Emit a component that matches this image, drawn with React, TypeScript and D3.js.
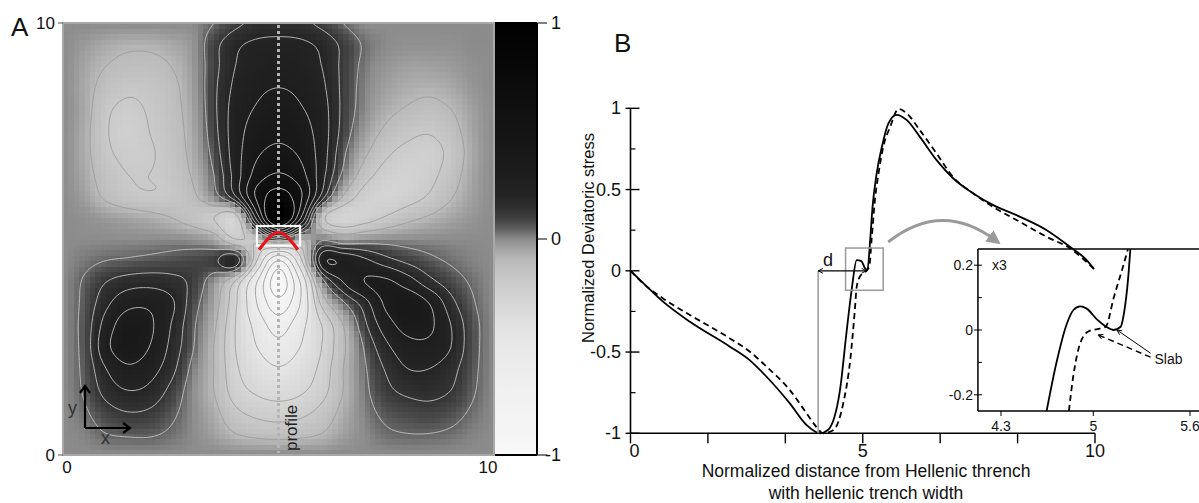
import React, { useMemo } from 'react';
import * as d3 from 'd3';

// ---------- Panel A data: normalized deviatoric stress field (rows from y=10 down to y=0, x = 0..10 step 0.5)
const gridStep = 0.5;
const fieldRows: number[][] = [
  [0, 0, 0, 0, 0, 0, 0, 0.04, 0.1, 0.14, 0.15, 0.14, 0.1, 0.04, 0, 0, 0, 0, 0, 0, 0],
  [0, -0.03, -0.06, -0.08, -0.08, -0.06, -0.02, 0.09, 0.18, 0.22, 0.23, 0.22, 0.18, 0.1, 0.03, 0, -0.01, -0.01, -0.01, 0, 0],
  [0, -0.05, -0.1, -0.13, -0.13, -0.1, -0.03, 0.09, 0.2, 0.25, 0.27, 0.25, 0.2, 0.1, 0.02, -0.02, -0.04, -0.04, -0.03, -0.01, 0],
  [0, -0.06, -0.14, -0.18, -0.17, -0.13, -0.04, 0.1, 0.22, 0.28, 0.3, 0.28, 0.22, 0.1, 0.01, -0.04, -0.07, -0.08, -0.06, -0.02, 0],
  [0, -0.06, -0.18, -0.22, -0.19, -0.14, -0.05, 0.1, 0.24, 0.31, 0.34, 0.31, 0.24, 0.1, 0.0, -0.07, -0.11, -0.13, -0.1, -0.04, 0],
  [0, -0.07, -0.19, -0.24, -0.2, -0.15, -0.06, 0.09, 0.25, 0.35, 0.39, 0.35, 0.25, 0.09, -0.03, -0.12, -0.17, -0.19, -0.14, -0.05, 0],
  [0, -0.07, -0.18, -0.22, -0.21, -0.16, -0.07, 0.07, 0.25, 0.4, 0.45, 0.4, 0.25, 0.06, -0.08, -0.18, -0.23, -0.24, -0.17, -0.06, 0],
  [0, -0.06, -0.15, -0.2, -0.2, -0.17, -0.09, 0.04, 0.24, 0.47, 0.56, 0.47, 0.24, 0.02, -0.15, -0.24, -0.27, -0.23, -0.15, -0.05, 0],
  [0, -0.04, -0.12, -0.17, -0.19, -0.18, -0.12, 0.0, 0.2, 0.58, 0.78, 0.58, 0.18, -0.1, -0.24, -0.28, -0.25, -0.19, -0.11, -0.04, 0],
  [0, -0.01, -0.03, -0.05, -0.07, -0.1, -0.15, -0.2, -0.25, 0.35, 1.0, 0.45, -0.15, -0.28, -0.25, -0.19, -0.13, -0.09, -0.05, -0.02, 0],
  [0, 0, 0, 0, 0, 0, -0.01, -0.05, -0.2, -0.15, 0.05, -0.1, 0.02, -0.03, -0.01, 0, 0, 0, 0, 0, 0],
  [0, 0.02, 0.04, 0.05, 0.06, 0.07, 0.08, 0.1, 0.18, -0.3, -0.75, -0.35, 0.25, 0.28, 0.22, 0.15, 0.1, 0.06, 0.03, 0.01, 0],
  [0, 0.05, 0.12, 0.16, 0.17, 0.15, 0.1, -0.02, -0.22, -0.6, -0.99, -0.6, -0.02, 0.2, 0.3, 0.32, 0.25, 0.15, 0.08, 0.03, 0],
  [0, 0.06, 0.18, 0.27, 0.28, 0.22, 0.08, -0.05, -0.28, -0.6, -0.84, -0.6, -0.18, 0.02, 0.16, 0.32, 0.38, 0.3, 0.15, 0.05, 0],
  [0, 0.07, 0.24, 0.36, 0.32, 0.2, 0.06, -0.08, -0.3, -0.5, -0.67, -0.5, -0.3, -0.1, 0.1, 0.25, 0.34, 0.32, 0.2, 0.07, 0],
  [0, 0.07, 0.27, 0.37, 0.3, 0.18, 0.05, -0.1, -0.3, -0.45, -0.55, -0.45, -0.3, -0.12, 0.05, 0.18, 0.26, 0.27, 0.2, 0.07, 0],
  [0, 0.06, 0.2, 0.28, 0.24, 0.15, 0.02, -0.1, -0.28, -0.38, -0.44, -0.38, -0.27, -0.1, 0.03, 0.13, 0.2, 0.2, 0.15, 0.06, 0],
  [0, 0.05, 0.15, 0.2, 0.18, 0.1, 0, -0.1, -0.25, -0.32, -0.35, -0.32, -0.24, -0.1, 0.02, 0.1, 0.14, 0.15, 0.12, 0.05, 0],
  [0, 0.03, 0.09, 0.12, 0.11, 0.06, 0, -0.07, -0.18, -0.23, -0.25, -0.23, -0.17, -0.07, 0.01, 0.06, 0.08, 0.09, 0.07, 0.03, 0],
  [0, 0.01, 0.04, 0.05, 0.05, 0.03, 0, -0.04, -0.1, -0.13, -0.14, -0.13, -0.1, -0.04, 0, 0.03, 0.04, 0.04, 0.03, 0.01, 0],
  [0, 0, 0, 0, 0, 0, 0, 0, 0, 0, 0, 0, 0, 0, 0, 0, 0, 0, 0, 0, 0],
];

// colormap: value -> gray level
const colorValues = [-1, -0.7, -0.45, -0.3, -0.2, -0.1, -0.05, 0, 0.03, 0.07, 0.12, 0.2, 0.35, 0.6, 1];
const colorGrays = [248, 240, 230, 214, 202, 186, 165, 140, 110, 75, 52, 36, 26, 16, 0];
const contourLevels = [-0.9, -0.75, -0.6, -0.45, -0.3, -0.2, -0.1, 0.04, 0.12, 0.2, 0.3, 0.42, 0.55, 0.7];
const mapTickValues = [0, 10];
const colorbarTicks = [-1, 0, 1];
const profileX = 5;
const slabX = [4.55, 5.0, 5.45];
const slabY = [4.75, 5.15, 4.75];
const slabBoxX = [4.5, 5.5];
const slabBoxY = [4.85, 5.3];

// ---------- Panel B data
const solidDist = [0, 0.28, 0.7, 1.28, 2.14, 2.57, 2.93, 3.43, 3.79, 4.08, 4.25, 4.51, 4.65, 4.76, 4.87, 4.97, 5.05, 5.1, 5.16, 5.21, 5.3, 5.41, 5.55, 5.73, 5.95, 6.23, 6.59, 6.95, 7.38, 7.81, 8.39, 8.96, 9.46, 9.82, 9.98];
const solidStress = [0, -0.077, -0.19, -0.314, -0.467, -0.551, -0.652, -0.816, -0.949, -1.0, -0.98, -0.734, -0.38, -0.12, 0.066, 0.06, 0.015, 0.004, 0.19, 0.39, 0.6, 0.76, 0.906, 0.96, 0.927, 0.824, 0.681, 0.568, 0.476, 0.404, 0.332, 0.25, 0.148, 0.066, 0.01];
const dashedDist = [0, 0.28, 0.7, 1.28, 2.14, 2.57, 2.93, 3.43, 3.79, 4.0, 4.15, 4.37, 4.58, 4.73, 4.83, 4.87, 4.95, 5.01, 5.14, 5.19, 5.26, 5.34, 5.44, 5.59, 5.77, 5.95, 6.23, 6.59, 6.94, 7.38, 7.8, 8.39, 8.96, 9.46, 9.96];
const dashedStress = [0, -0.08, -0.17, -0.272, -0.416, -0.498, -0.59, -0.734, -0.877, -0.96, -1.0, -0.98, -0.816, -0.55, -0.24, -0.098, -0.03, -0.016, 0.025, 0.19, 0.43, 0.6, 0.76, 0.886, 0.995, 0.968, 0.865, 0.722, 0.578, 0.476, 0.394, 0.3, 0.209, 0.138, 0.017];

const insetSolidDist = [4.646, 4.72, 4.8, 4.848, 4.9, 4.95, 5.026, 5.08, 5.127, 5.17, 5.19, 5.215, 5.23];
const insetSolidStress = [-0.25, -0.102, 0.02, 0.061, 0.073, 0.066, 0.031, 0.01, 0.0, 0.01, 0.051, 0.153, 0.25];
const insetDashedDist = [4.815, 4.848, 4.886, 4.924, 4.975, 5.026, 5.077, 5.127, 5.177, 5.215];
const insetDashedStress = [-0.25, -0.143, -0.061, -0.02, -0.002, 0.003, 0.01, 0.1, 0.183, 0.25];

const bXTickLabels = [0, 5, 10];
const bXMinorTicks = [0, 10 / 6, 20 / 6, 5, 40 / 6, 50 / 6, 10];
const bYTickLabels = [-1, -0.5, 0, 0.5, 1];
const bYMinorTicks = [-0.75, -0.25, 0.25, 0.75];
const insetXTicks = [4.3, 5, 5.6];
const insetYTicks = [-0.2, 0, 0.2];
const insetYMinor = [-0.1, 0.1];
const zoomBoxX = [4.63, 5.44];
const zoomBoxY = [-0.12, 0.14];
const dArrowX = [4.04, 5.08];
const slabLabelPos = [5.38, -0.09];
const slabSolidTarget = [5.147, 0.0];
const slabDashedTarget = [5.03, -0.015];

const FONT = '"Liberation Sans", Arial, Helvetica, sans-serif';

const G = fieldRows.slice().reverse();
const NX = G[0].length;
const NY = G.length;
function at(i: number, j: number) {
  const ii = Math.max(0, Math.min(NX - 1, i));
  const jj = Math.max(0, Math.min(NY - 1, j));
  return G[jj][ii];
}
function cr(p0: number, p1: number, p2: number, p3: number, t: number) {
  return 0.5 * (2 * p1 + (-p0 + p2) * t + (2 * p0 - 5 * p1 + 4 * p2 - p3) * t * t + (-p0 + 3 * p1 - 3 * p2 + p3) * t * t * t);
}
function sample(x: number, y: number) {
  const fx = x / gridStep;
  const fy = y / gridStep;
  let i = Math.floor(fx);
  let j = Math.floor(fy);
  i = Math.max(0, Math.min(NX - 2, i));
  j = Math.max(0, Math.min(NY - 2, j));
  const t = fx - i;
  const u = fy - j;
  const r: number[] = [];
  for (let dj = -1; dj <= 2; dj++) {
    r.push(cr(at(i - 1, j + dj), at(i, j + dj), at(i + 1, j + dj), at(i + 2, j + dj), t));
  }
  return cr(r[0], r[1], r[2], r[3], u);
}

export default function App() {
  const xA = d3.scaleLinear().domain([0, 10]).range([63, 494]);
  const yA = d3.scaleLinear().domain([0, 10]).range([455, 23]);
  const gray = d3.scaleLinear().domain(colorValues).range(colorGrays).clamp(true);
  const col = (v: number) => {
    const g = Math.round(gray(v));
    return `rgb(${g},${g},${g})`;
  };
  const cbScale = d3.scaleLinear().domain([-1, 1]).range([455, 23]);

  const cells = useMemo(() => {
    const n = 80;
    const c = 10 / n;
    const out: { x: number; y: number; w: number; h: number; f: string }[] = [];
    for (let ci = 0; ci < n; ci++) {
      for (let cj = 0; cj < n; cj++) {
        const x0 = ci * c, x1 = (ci + 1) * c;
        const y0 = cj * c, y1 = (cj + 1) * c;
        const v = sample((x0 + x1) / 2, (y0 + y1) / 2);
        out.push({ x: xA(x0), y: yA(y1), w: xA(x1) - xA(x0) + 0.6, h: yA(y0) - yA(y1) + 0.6, f: col(v) });
      }
    }
    return out;
  }, []);

  const contourPaths = useMemo(() => {
    const N = 161;
    const step = 10 / (N - 1);
    const vals = new Array(N * N);
    for (let r = 0; r < N; r++) {
      for (let c = 0; c < N; c++) {
        vals[r * N + c] = sample(c * step, 10 - r * step);
      }
    }
    const cs = d3.contours().size([N, N]).thresholds(contourLevels)(vals);
    const proj = d3.geoTransform({
      point: function (this: any, x: number, y: number) {
        this.stream.point(xA((x - 0.5) * step), yA(10 - (y - 0.5) * step));
      },
    });
    const path = d3.geoPath(proj);
    return cs.map((g) => ({ d: path(g as any) || '', level: g.value }));
  }, []);

  const gradStops = d3.range(0, 41).map((k) => {
    const v = 1 - k / 20;
    return { off: `${(k / 40) * 100}%`, c: col(v) };
  });

  // Panel B
  const xB = d3.scaleLinear().domain([0, 10]).range([630.5, 1095]);
  const yB = d3.scaleLinear().domain([-1, 1]).range([433.3, 108.3]);
  const solidPath = d3.line<number>().x((_, k) => xB(solidDist[k])).y((d) => yB(d)).curve(d3.curveMonotoneX)(solidStress) || '';
  const dashedPath = d3.line<number>().x((_, k) => xB(dashedDist[k])).y((d) => yB(d)).curve(d3.curveMonotoneX)(dashedStress) || '';

  const xI = d3.scaleLinear().domain([4.3, 5, 5.6]).range([1001, 1093.3, 1190]);
  const yI = d3.scaleLinear().domain([-0.25, 0.25]).range([411, 249]);
  const insetLeft = xI(4.125);
  const insetRight = 1205;
  const insetSolid = d3.line<number>().x((_, k) => xI(insetSolidDist[k])).y((d) => yI(d)).curve(d3.curveMonotoneX)(insetSolidStress) || '';
  const insetDashed = d3.line<number>().x((_, k) => xI(insetDashedDist[k])).y((d) => yI(d)).curve(d3.curveMonotoneX)(insetDashedStress) || '';

  const zbx0 = xB(zoomBoxX[0]), zbx1 = xB(zoomBoxX[1]);
  const zby0 = yB(zoomBoxY[1]), zby1 = yB(zoomBoxY[0]);
  const arcStart = [zbx1 + 5, zby0 - 6];
  const arcEnd = [xI(4.3) - 6, yI(0.25) - 9];
  const arcCtrl = [(arcStart[0] + arcEnd[0]) / 2, zby0 - 48];

  const slabPts = slabX.map((x, k) => [xA(x), yA(slabY[k])] as [number, number]);
  const cbL = 495, cbR = 537;

  return (
    <svg width={1199} height={503} style={{ position: 'absolute', left: 0, top: 0, background: '#fff' }} fontFamily={FONT}>
      <defs>
        <clipPath id="mapClip">
          <rect x={xA(0)} y={yA(10)} width={xA(10) - xA(0)} height={yA(0) - yA(10)} />
        </clipPath>
        <clipPath id="insetClip">
          <rect x={insetLeft} y={yI(0.25)} width={insetRight - insetLeft} height={yI(-0.25) - yI(0.25)} />
        </clipPath>
        <linearGradient id="cbGrad" x1="0" y1="0" x2="0" y2="1">
          {gradStops.map((s, k) => (
            <stop key={k} offset={s.off} stopColor={s.c} />
          ))}
        </linearGradient>
        <marker id="ahBlack" viewBox="0 0 10 10" refX="9" refY="5" markerWidth="6" markerHeight="6" orient="auto-start-reverse" markerUnits="userSpaceOnUse">
          <path d="M1,1 L9,5 L1,9" fill="none" stroke="#000" strokeWidth={1.5} />
        </marker>
        <marker id="ahGray" viewBox="0 0 10 10" refX="5" refY="5" markerWidth="14" markerHeight="14" orient="auto" markerUnits="userSpaceOnUse">
          <path d="M0,0 L10,5 L0,10 z" fill="#9a9a9a" />
        </marker>
      </defs>

      {/* ---------------- Panel A ---------------- */}
      <g clipPath="url(#mapClip)">
        {cells.map((c, k) => (
          <rect key={k} x={c.x} y={c.y} width={c.w} height={c.h} fill={c.f} shapeRendering="crispEdges" />
        ))}
        {contourPaths.map((p, k) => (
          <path key={k} d={p.d} fill="none" stroke={p.level < 0 ? '#9c9c9c' : '#c2c2c2'} strokeWidth={0.9} />
        ))}
        <line x1={xA(profileX)} x2={xA(profileX)} y1={yA(10) + 2} y2={yA(0) - 2} stroke="#b4b4b4" strokeWidth={3} strokeDasharray="3,3" />
        <rect x={xA(slabBoxX[0])} y={yA(slabBoxY[1])} width={xA(slabBoxX[1]) - xA(slabBoxX[0])} height={yA(slabBoxY[0]) - yA(slabBoxY[1])} fill="none" stroke="#fff" strokeWidth={2.2} />
        <path d={d3.line().curve(d3.curveMonotoneX)(slabPts) || ''} fill="none" stroke="#e8141b" strokeWidth={3.2} />
      </g>

      {/* colorbar */}
      <rect x={cbL} y={cbScale(1)} width={cbR - cbL} height={cbScale(-1) - cbScale(1)} fill="url(#cbGrad)" />
      <g stroke="#000" strokeWidth={2} fill="none">
        <line x1={cbL} x2={cbR} y1={cbScale(1)} y2={cbScale(1)} />
        <line x1={cbR} x2={cbR} y1={cbScale(1)} y2={cbScale(-1)} />
        <line x1={cbL} x2={cbR} y1={cbScale(-1)} y2={cbScale(-1)} />
      </g>
      <rect x={xA(0)} y={yA(10)} width={xA(10) - xA(0)} height={yA(0) - yA(10)} fill="none" stroke="#a8a8a8" strokeWidth={2} />
      {colorbarTicks.map((t) => (
        <g key={t}>
          <line x1={cbR} x2={cbR + 10} y1={cbScale(t)} y2={cbScale(t)} stroke="#000" strokeWidth={1} />
          <text x={561} y={cbScale(t) + 6} textAnchor="end" fontSize={18} fill="#111">{t}</text>
        </g>
      ))}

      {/* map axis labels */}
      <text x={11} y={36} fontSize={26} fill="#111">A</text>
      {mapTickValues.map((t) => (
        <g key={'my' + t}>
          <line x1={xA(0) - 5} x2={xA(0)} y1={yA(t)} y2={yA(t)} stroke="#555" strokeWidth={1} />
          <text x={xA(0) - 8} y={yA(t) + 6} textAnchor="end" fontSize={17} fill="#111">{t}</text>
        </g>
      ))}
      {mapTickValues.map((t) => (
        <text key={'mx' + t} x={t === 0 ? xA(t) + 4 : xA(t) - 6} y={473} textAnchor="middle" fontSize={17} fill="#111">{t}</text>
      ))}
      <text transform={`translate(${xA(profileX) + 18},${yA(0) - 4}) rotate(-90)`} fontSize={17} fill="#222">profile</text>

      {/* xy icon */}
      <g stroke="#000" strokeWidth={2.2} fill="none">
        <line x1={85} y1={428} x2={85} y2={388} />
        <path d="M80,393 L85,386 L90,393" />
        <line x1={85} y1={428} x2={128} y2={428} />
        <path d="M123,423 L130,428 L123,433" />
      </g>
      <text x={68} y={414} fontSize={18} fill="#333">y</text>
      <text x={101} y={444} fontSize={18} fill="#333">x</text>

      {/* ---------------- Panel B ---------------- */}
      <text x={614} y={52} fontSize={26} fill="#111">B</text>

      {/* inset */}
      <g clipPath="url(#insetClip)">
        <path d={insetSolid} fill="none" stroke="#000" strokeWidth={1.8} />
        <path d={insetDashed} fill="none" stroke="#000" strokeWidth={1.8} strokeDasharray="6,4" />
      </g>
      <g stroke="#000" strokeWidth={1.5} fill="none">
        <line x1={insetLeft} x2={insetRight} y1={yI(0.25)} y2={yI(0.25)} />
        <line x1={insetLeft} x2={insetRight} y1={yI(-0.25)} y2={yI(-0.25)} />
        <line x1={insetLeft} x2={insetLeft} y1={yI(0.25)} y2={yI(-0.25)} />
      </g>
      {insetYTicks.map((t) => (
        <g key={'iy' + t}>
          <line x1={insetLeft - 4} x2={insetLeft + 4} y1={yI(t)} y2={yI(t)} stroke="#000" strokeWidth={1} />
          <text x={insetLeft - 5} y={yI(t) + 5} textAnchor="end" fontSize={14} fill="#111">{t}</text>
        </g>
      ))}
      {insetYMinor.map((t) => (
        <line key={'iym' + t} x1={insetLeft} x2={insetLeft + 4} y1={yI(t)} y2={yI(t)} stroke="#000" strokeWidth={1} />
      ))}
      {insetXTicks.map((t) => (
        <g key={'ix' + t}>
          <line x1={xI(t)} x2={xI(t)} y1={yI(-0.25)} y2={yI(-0.25) + 5} stroke="#000" strokeWidth={1} />
          <text x={xI(t)} y={yI(-0.25) + 20} textAnchor="middle" fontSize={14} fill="#111">{t}</text>
        </g>
      ))}
      <text x={insetLeft + 14} y={yI(0.2) + 5} fontSize={14} fill="#111">x3</text>
      <text x={xI(slabLabelPos[0])} y={yI(slabLabelPos[1]) + 5} fontSize={14} fill="#111">Slab</text>
      <line x1={xI(slabLabelPos[0]) - 4} y1={yI(slabLabelPos[1]) - 6} x2={xI(slabSolidTarget[0])} y2={yI(slabSolidTarget[1])} stroke="#000" strokeWidth={1} markerEnd="url(#ahBlack)" />
      <line x1={xI(slabLabelPos[0]) - 4} y1={yI(slabLabelPos[1]) - 2} x2={xI(slabDashedTarget[0])} y2={yI(slabDashedTarget[1])} stroke="#000" strokeWidth={1.4} strokeDasharray="6,4" markerEnd="url(#ahBlack)" />

      {/* main curves */}
      <path d={solidPath} fill="none" stroke="#000" strokeWidth={1.8} />
      <path d={dashedPath} fill="none" stroke="#000" strokeWidth={1.8} strokeDasharray="6,4" />

      {/* axes */}
      <line x1={xB(0)} x2={xB(0)} y1={yB(1)} y2={yB(-1)} stroke="#000" strokeWidth={1.6} />
      <line x1={xB(0)} x2={xB(10)} y1={yB(-1)} y2={yB(-1)} stroke="#000" strokeWidth={1.6} />
      {bYTickLabels.map((t) => (
        <g key={'by' + t}>
          <line x1={xB(0) - 5} x2={xB(0) + 9} y1={yB(t)} y2={yB(t)} stroke="#000" strokeWidth={1.4} />
          <text x={621} y={yB(t) + 6} textAnchor="end" fontSize={18} fill="#111">{t}</text>
        </g>
      ))}
      {bYMinorTicks.map((t) => (
        <line key={'bym' + t} x1={xB(0)} x2={xB(0) + 5} y1={yB(t)} y2={yB(t)} stroke="#000" strokeWidth={1.2} />
      ))}
      {bXMinorTicks.map((t, k) => (
        <line key={'bxm' + k} x1={xB(t)} x2={xB(t)} y1={yB(-1)} y2={yB(-1) + 10} stroke="#000" strokeWidth={1.4} />
      ))}
      {bXTickLabels.map((t) => (
        <text key={'bx' + t} x={xB(t) + (t === 0 ? 4 : 0)} y={457} textAnchor="middle" fontSize={18} fill="#111">{t}</text>
      ))}
      <text x={866} y={477} textAnchor="middle" fontSize={17.5} fill="#111">Normalized distance from Hellenic thrench</text>
      <text x={866} y={499} textAnchor="middle" fontSize={17.5} fill="#111">with hellenic trench width</text>
      <text transform={`translate(${594},${238}) rotate(-90)`} textAnchor="middle" fontSize={16.5} fill="#111">Normalized Deviatoric stress</text>

      {/* annotations */}
      <rect x={zbx0} y={zby0} width={zbx1 - zbx0} height={zby1 - zby0} fill="none" stroke="#9a9a9a" strokeWidth={1.5} />
      <line x1={xB(dArrowX[0])} x2={xB(dArrowX[0])} y1={yB(0)} y2={yB(-1)} stroke="#9a9a9a" strokeWidth={1.5} />
      <line x1={xB(dArrowX[0])} x2={xB(dArrowX[1])} y1={yB(0)} y2={yB(0)} stroke="#000" strokeWidth={1.3} markerStart="url(#ahBlack)" markerEnd="url(#ahBlack)" />
      <text x={xB(4.25)} y={yB(0) - 5} textAnchor="middle" fontSize={18} fill="#111">d</text>
      <path d={`M${arcStart[0]},${arcStart[1]} Q${arcCtrl[0]},${arcCtrl[1]} ${arcEnd[0]},${arcEnd[1]}`} fill="none" stroke="#9a9a9a" strokeWidth={3} markerEnd="url(#ahGray)" />
    </svg>
  );
}
